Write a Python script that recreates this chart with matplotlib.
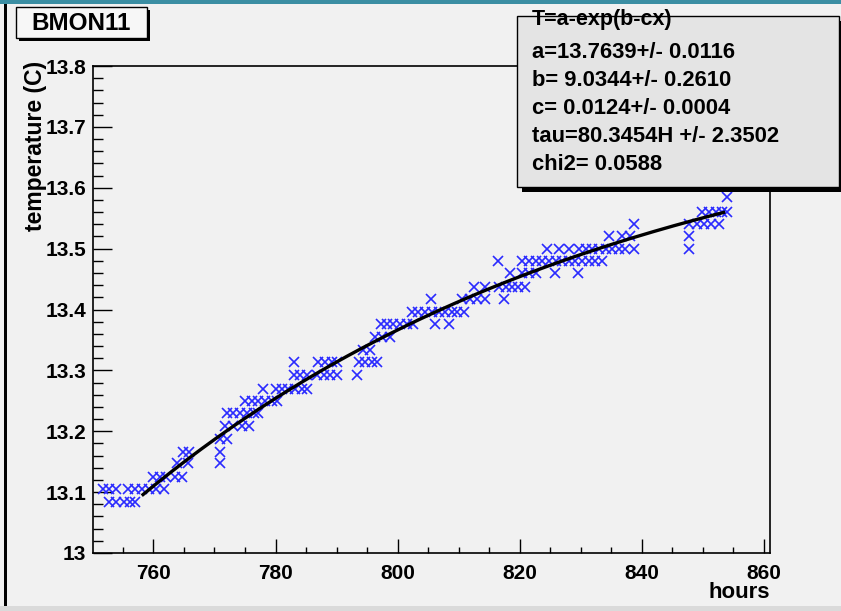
import numpy as np
import matplotlib.pyplot as plt
from matplotlib.patches import Rectangle
from matplotlib.ticker import MultipleLocator, FuncFormatter

plt.rcParams['font.family'] = ['Liberation Sans', 'DejaVu Sans']
plt.rcParams['font.weight'] = 'bold'

# BMON11 temperature readings (hours, deg C)
hours = [751.8, 752.8, 753.9, 755.9, 757.0, 758.2, 759.3, 760.5, 761.8,
         752.8, 753.9, 755.1, 756.1, 756.9,
         760.0, 761.0, 762.1, 763.5, 764.7,
         763.9, 765.7, 770.9,
         764.9, 765.9, 770.9,
         770.9, 772.0,
         771.8, 773.1, 774.5, 775.6,
         772.0, 773.1, 774.2, 775.3, 776.4, 777.2,
         775.0, 776.1, 777.2, 778.3, 779.4, 780.2,
         778.0, 780.0, 781.0, 782.1, 783.2, 784.3, 785.1,
         783.0, 784.0, 785.1, 786.8, 787.9, 789.0, 790.0, 793.3,
         783.1, 787.0, 788.1, 789.2, 790.0, 793.6, 794.7, 795.8, 796.6,
         794.4, 795.5,
         796.3, 797.4, 798.8,
         797.2, 798.2, 799.3, 800.4, 801.5, 802.6, 806.2, 808.4,
         802.3, 803.4, 804.5, 805.6, 806.7, 807.8, 808.9, 809.7, 810.8,
         805.4, 810.5, 811.9, 813.0, 814.3, 817.5,
         812.5, 814.3, 816.6, 817.7, 818.8, 819.8, 820.8,
         818.4, 820.4, 821.5, 822.6, 825.7, 829.5,
         816.4, 820.4, 821.5, 822.6, 823.7, 824.8, 825.9, 827.0, 828.0,
         829.1, 830.2, 831.3, 832.4, 833.5,
         824.5, 826.4, 828.0, 829.7, 830.8, 831.9, 833.0, 834.1, 835.1,
         836.2, 837.3, 838.7, 847.8,
         834.7, 836.8, 838.1, 847.8,
         838.7, 847.8, 849.1, 850.2, 851.3, 852.6,
         849.9, 851.0, 852.1, 853.2, 854.0,
         854.0]
temps = ([13.105] * 9 + [13.084] * 5 + [13.125] * 5 + [13.148] * 3 +
         [13.166] * 3 + [13.188] * 2 + [13.209] * 4 + [13.230] * 6 +
         [13.250] * 6 + [13.270] * 7 + [13.293] * 8 + [13.313] * 9 +
         [13.333] * 2 + [13.355] * 3 + [13.377] * 8 + [13.396] * 9 +
         [13.417] * 6 + [13.437] * 7 + [13.460] * 6 + [13.480] * 14 +
         [13.500] * 13 + [13.520] * 4 + [13.540] * 6 + [13.560] * 5 +
         [13.585] * 1)

# fit result T = a - exp(b - c*x)
a = 13.7639
b = 9.0344
tau = 80.3454
fit_start, fit_end = 758.3, 853.4

stats_lines = ['a=13.7639+/- 0.0116',
               'b= 9.0344+/- 0.2610',
               'c= 0.0124+/- 0.0004',
               'tau=80.3454H +/- 2.3502',
               'chi2= 0.0588']

W, H = 841, 611
bg = '#f1f1f1'
fig = plt.figure(figsize=(W / 100, H / 100), dpi=100)
fig.patch.set_facecolor(bg)


def fx(px):
    return px / W


def fy(py):
    return 1 - py / H


def box(x0, y0, x1, y1, **kw):
    fig.add_artist(Rectangle((fx(x0), fy(y1)), fx(x1) - fx(x0), fy(y0) - fy(y1),
                             transform=fig.transFigure, **kw))


# canvas frame
box(0, 0, W, 4, facecolor='#3b8ea3', edgecolor='none', zorder=0)
box(4, 4, 7, H, facecolor='black', edgecolor='none', zorder=0)
box(0, 606, W, H, facecolor='#dadada', edgecolor='none', zorder=0)

ax = fig.add_axes([fx(93), fy(553), fx(770) - fx(93), fy(66) - fy(553)])
ax.set_facecolor(bg)
ax.set_xlim(750.1, 861)
ax.set_ylim(13.0, 13.8)

ax.plot(hours, temps, linestyle='none', marker='x', color='#2a2aff',
        markersize=6.5, markeredgewidth=1.2, zorder=3)
xf = np.linspace(fit_start, fit_end, 200)
ax.plot(xf, a - np.exp(b - xf / tau), color='black', linewidth=2.4, zorder=4)

ax.xaxis.set_major_locator(MultipleLocator(20))
ax.xaxis.set_minor_locator(MultipleLocator(5))
ax.yaxis.set_major_locator(MultipleLocator(0.1))
ax.yaxis.set_minor_locator(MultipleLocator(0.02))
ax.yaxis.set_major_formatter(FuncFormatter(lambda v, p: ('%.1f' % v).rstrip('0').rstrip('.')))
ax.tick_params(axis='both', which='both', direction='in', labelsize=15, colors='black')
ax.tick_params(axis='y', which='major', length=14, width=1, pad=5)
ax.tick_params(axis='y', which='minor', length=7, width=1)
ax.tick_params(axis='x', which='major', length=10, width=1, pad=8)
ax.tick_params(axis='x', which='minor', length=4.5, width=1)
for lab in ax.get_xticklabels() + ax.get_yticklabels():
    lab.set_fontweight('bold')
for s in ax.spines.values():
    s.set_linewidth(1.2)

fig.text(fx(770), fy(593), 'hours', ha='right', va='center', fontsize=16, fontweight='bold')
fig.text(fx(36), fy(61), 'temperature (C)', rotation=90, ha='center', va='top',
         fontsize=16.5, fontweight='bold')

# title box
box(19, 10, 150, 41, facecolor='black', edgecolor='none', zorder=5)
box(16, 7, 147, 38, facecolor='#f7f7f7', edgecolor='black', linewidth=1, zorder=6)
fig.text(fx(81), fy(23), 'BMON11', ha='center', va='center', fontsize=17.5,
         fontweight='bold', zorder=7)

# stats box
box(522, 21, 844, 192, facecolor='black', edgecolor='none', zorder=5)
box(517, 16, 839, 187, facecolor='#e4e4e4', edgecolor='black', linewidth=1, zorder=6)
fig.text(fx(532), fy(20), 'T=a-exp(b-cx)', ha='left', va='center', fontsize=15.5,
         fontweight='bold', zorder=7)
for i, line in enumerate(stats_lines):
    fig.text(fx(532), fy(52 + i * 28), line, ha='left', va='center', fontsize=15.8,
             fontweight='bold', zorder=7)

fig.savefig('out.png', dpi=100, facecolor=fig.get_facecolor())
